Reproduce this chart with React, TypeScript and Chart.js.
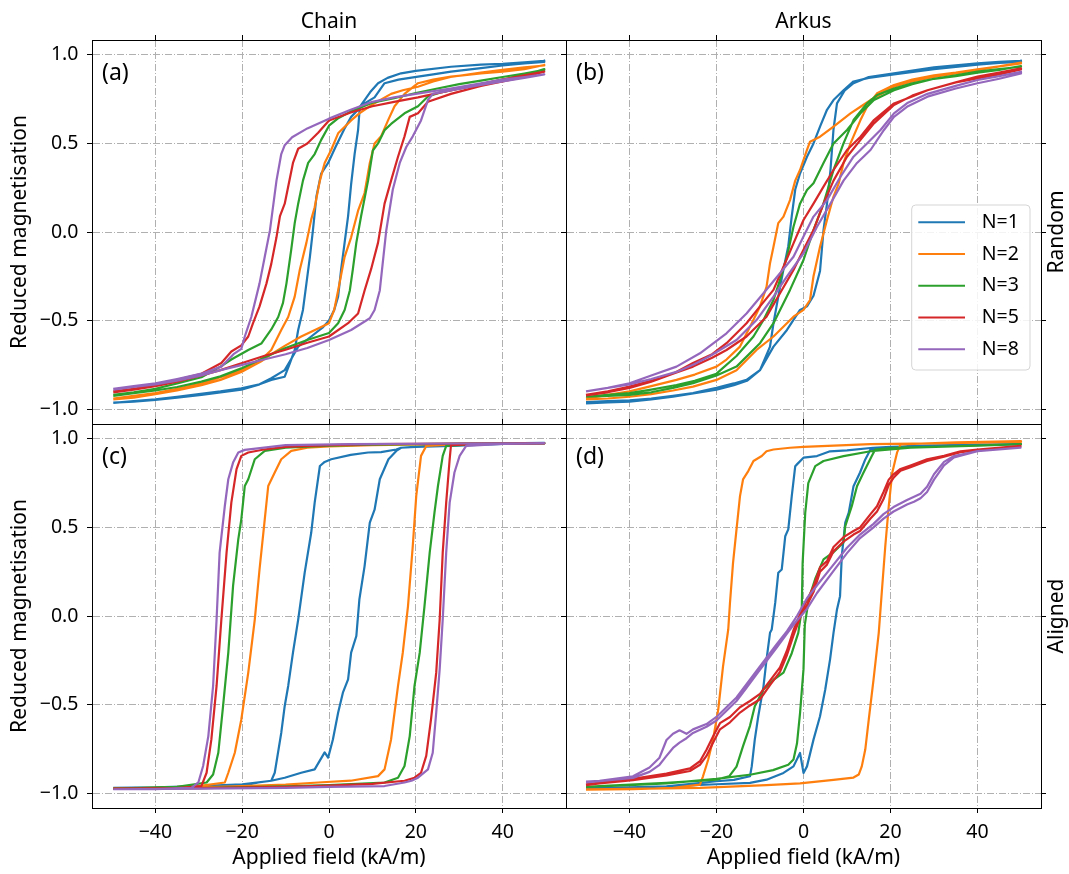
import React, { useEffect, useRef } from 'react';
import { Chart, registerables } from 'chart.js';

Chart.register(...registerables);

type Pt = [number, number];

const FONT = "'Noto Sans', sans-serif";

const fieldTicks = [-40, -20, 0, 20, 40];
const fieldTickLabels = ['−40', '−20', '0', '20', '40'];
const magTicks = [-1, -0.5, 0, 0.5, 1];
const magTickLabels = ['−1.0', '−0.5', '0.0', '0.5', '1.0'];
const seriesNames = ['N=1', 'N=2', 'N=3', 'N=5', 'N=8'];
const seriesColors = ['#1f77b4', '#ff7f0e', '#2ca02c', '#d62728', '#9467bd'];
const columnTitles = ['Chain', 'Arkus'];
const rowLabels = ['Random', 'Aligned'];
const panelLetters = ['(a)', '(b)', '(c)', '(d)'];
const xLabel = 'Applied field (kA/m)';
const yLabel = 'Reduced magnetisation';

// ---------- (a) Chain, random ----------
const aN1Up: Pt[] = [[-49.7,-0.965],[-45,-0.955],[-40,-0.945],[-35,-0.93],[-30,-0.915],[-25,-0.9],[-20.2,-0.882],[-16,-0.86],[-13.3,-0.826],[-10.2,-0.78],[-8.3,-0.7],[-7.1,-0.647],[-4.1,-0.59],[-1.5,-0.54],[0,-0.5],[1.2,-0.44],[2.1,-0.365],[2.8,-0.21],[3.6,-0.06],[4.4,0.09],[5.1,0.27],[5.9,0.44],[6.7,0.576],[7.1,0.707],[8.2,0.745],[9.5,0.79],[11.3,0.84],[13.5,0.87],[16.6,0.896],[20,0.91],[28.1,0.933],[35,0.945],[40,0.95],[45,0.958],[49.6,0.967]];
const aN1Down: Pt[] = [[49.6,0.96],[45,0.952],[40,0.94],[35,0.925],[28.1,0.905],[24,0.89],[20.5,0.877],[16,0.86],[12.8,0.84],[10.5,0.76],[8.2,0.726],[6.7,0.69],[5.1,0.65],[3.5,0.58],[1.5,0.48],[-0.2,0.39],[-1.8,0.33],[-2.9,0.2],[-3.7,0.01],[-4.4,-0.14],[-5.2,-0.29],[-6,-0.44],[-7.1,-0.553],[-7.9,-0.666],[-9,-0.74],[-10.2,-0.817],[-13.3,-0.835],[-16,-0.86],[-20.2,-0.89],[-25,-0.905],[-29.4,-0.92],[-35,-0.935],[-40,-0.948],[-45,-0.958],[-49.7,-0.963]];
const aN2Up: Pt[] = [[-49.7,-0.945],[-45,-0.935],[-40,-0.915],[-35,-0.895],[-29.4,-0.865],[-25,-0.835],[-20.2,-0.79],[-15.6,-0.73],[-13.3,-0.69],[-10,-0.64],[-6.4,-0.59],[-3,-0.55],[0,-0.515],[1.2,-0.44],[2.1,-0.33],[3.6,-0.14],[5.1,-0.03],[6.7,0.12],[8.2,0.22],[9.4,0.39],[10.5,0.5],[12,0.54],[13.6,0.63],[15.1,0.71],[17.4,0.78],[20.5,0.84],[24,0.86],[28.1,0.877],[35,0.895],[40,0.905],[45,0.92],[49.6,0.943]];
const aN2Down: Pt[] = [[49.6,0.94],[45,0.93],[40,0.915],[35,0.9],[28,0.875],[24,0.85],[20.5,0.82],[17,0.8],[14.3,0.78],[10,0.72],[7,0.67],[5.1,0.63],[2.1,0.557],[0.5,0.463],[-1,0.39],[-2.1,0.29],[-3.3,0.14],[-4.1,0.07],[-5.2,-0.06],[-6.7,-0.21],[-7.9,-0.365],[-9.4,-0.48],[-11,-0.553],[-13.3,-0.666],[-15.6,-0.72],[-20.2,-0.78],[-25,-0.82],[-29.4,-0.855],[-35,-0.885],[-40,-0.91],[-45,-0.925],[-49.7,-0.94]];
const aN3Up: Pt[] = [[-49.7,-0.925],[-45,-0.91],[-40,-0.895],[-35,-0.875],[-29.4,-0.845],[-25,-0.815],[-20.2,-0.77],[-15,-0.71],[-10,-0.655],[-5,-0.61],[0,-0.57],[2.1,-0.515],[3.6,-0.44],[4.8,-0.33],[5.5,-0.21],[6.3,-0.06],[7.4,0.09],[9,0.29],[10.1,0.46],[11.3,0.5],[12.8,0.575],[14.3,0.61],[17.4,0.67],[20.5,0.71],[22.8,0.765],[26,0.79],[30,0.81],[35,0.835],[40,0.86],[45,0.885],[49.6,0.92]];
const aN3Down: Pt[] = [[49.6,0.915],[45,0.895],[40,0.875],[35,0.855],[30,0.835],[25,0.81],[20,0.785],[15,0.755],[10,0.73],[5,0.68],[2,0.64],[0,0.6],[-1.8,0.52],[-3.3,0.44],[-4.8,0.39],[-6,0.29],[-7.1,0.16],[-7.9,0.05],[-8.7,-0.1],[-9.8,-0.29],[-10.6,-0.4],[-11.7,-0.48],[-13.3,-0.55],[-15.6,-0.63],[-18.6,-0.666],[-22.5,-0.72],[-25,-0.76],[-29.4,-0.82],[-35,-0.855],[-40,-0.885],[-45,-0.905],[-49.7,-0.92]];
const aN5Up: Pt[] = [[-49.7,-0.905],[-45,-0.89],[-40,-0.87],[-35,-0.845],[-29.4,-0.81],[-25,-0.78],[-20,-0.74],[-15,-0.7],[-10,-0.665],[-5,-0.625],[0,-0.59],[4.4,-0.515],[6.7,-0.46],[8.2,-0.33],[9.7,-0.21],[11.3,-0.06],[12.8,0.16],[14.3,0.29],[15.9,0.425],[17.4,0.54],[18.6,0.65],[20.5,0.67],[22.8,0.735],[28.1,0.78],[35,0.825],[40,0.85],[45,0.875],[49.6,0.905]];
const aN5Down: Pt[] = [[49.6,0.905],[45,0.885],[40,0.86],[35,0.835],[28,0.8],[20.5,0.76],[15,0.735],[10,0.71],[5,0.675],[0,0.63],[-2.5,0.56],[-5,0.5],[-7.1,0.47],[-8.3,0.39],[-10.2,0.16],[-11.3,0.09],[-12.1,-0.03],[-13.3,-0.18],[-14.4,-0.29],[-16,-0.42],[-17.5,-0.515],[-18.6,-0.59],[-20.2,-0.64],[-22.5,-0.675],[-24.8,-0.74],[-29.4,-0.8],[-35,-0.835],[-40,-0.865],[-45,-0.885],[-49.7,-0.9]];
const aN8Up: Pt[] = [[-49.7,-0.89],[-45,-0.875],[-40,-0.86],[-35,-0.84],[-29.4,-0.81],[-25,-0.78],[-20,-0.75],[-15,-0.72],[-10,-0.69],[-5,-0.655],[0,-0.61],[5.1,-0.553],[9.4,-0.487],[10.5,-0.44],[11.7,-0.33],[13.2,0.01],[14.7,0.24],[16.3,0.39],[17.8,0.48],[19.3,0.54],[21.2,0.63],[22.8,0.745],[23.9,0.78],[28,0.8],[35,0.83],[40,0.85],[45,0.87],[49.6,0.89]];
const aN8Down: Pt[] = [[49.6,0.89],[45,0.875],[40,0.86],[35,0.84],[28,0.81],[20,0.78],[15,0.76],[10,0.735],[5,0.69],[0,0.64],[-5,0.585],[-8.5,0.535],[-10.2,0.49],[-11,0.44],[-12.1,0.29],[-13.6,0.01],[-14.8,-0.14],[-16,-0.29],[-17.9,-0.48],[-19.4,-0.59],[-20.2,-0.66],[-22,-0.69],[-24.8,-0.76],[-29.4,-0.8],[-35,-0.83],[-40,-0.855],[-45,-0.87],[-49.7,-0.885]];

// ---------- (b) Arkus, random ----------
const bN1Up: Pt[] = [[-50,-0.96],[-45,-0.955],[-40,-0.95],[-35,-0.94],[-30,-0.925],[-25.4,-0.91],[-20,-0.88],[-16,-0.855],[-13.1,-0.835],[-10,-0.78],[-6.9,-0.647],[-3.8,-0.553],[-0.8,-0.44],[0.8,-0.42],[2.3,-0.36],[3.8,-0.22],[4.6,0.01],[5.4,0.16],[6.2,0.35],[6.9,0.58],[7.7,0.726],[9.5,0.8],[11.5,0.84],[15,0.875],[20.8,0.896],[30,0.93],[40,0.952],[45,0.96],[50,0.967]];
const bN1Down: Pt[] = [[50,0.96],[45,0.955],[40,0.945],[30,0.92],[20.8,0.89],[15,0.87],[11.5,0.85],[9.2,0.8],[6.9,0.745],[5.4,0.69],[3.8,0.595],[2.3,0.5],[0.8,0.425],[-0.8,0.33],[-1.9,0.24],[-2.7,0.09],[-3.5,-0.08],[-4.6,-0.21],[-5.8,-0.365],[-6.9,-0.515],[-7.7,-0.647],[-10,-0.78],[-13,-0.84],[-16,-0.865],[-20,-0.89],[-25,-0.91],[-30,-0.93],[-35,-0.945],[-40,-0.958],[-45,-0.962],[-50,-0.967]];
const bN2Up: Pt[] = [[-50,-0.945],[-45,-0.94],[-40,-0.93],[-35,-0.915],[-30,-0.895],[-25.4,-0.873],[-20,-0.835],[-15.4,-0.78],[-10.8,-0.666],[-6.9,-0.59],[-2.3,-0.478],[0,-0.44],[1.5,-0.384],[2.3,-0.25],[3.8,-0.083],[5.4,0.068],[6.9,0.2],[8.1,0.275],[9.2,0.39],[10.8,0.5],[13.1,0.632],[14.6,0.707],[16.9,0.783],[20.8,0.83],[25,0.86],[30,0.885],[35,0.9],[40,0.918],[45,0.935],[50,0.956]];
const bN2Down: Pt[] = [[50,0.952],[45,0.935],[40,0.914],[35,0.895],[30,0.875],[25,0.85],[20.8,0.82],[15.4,0.745],[13.1,0.707],[10.8,0.67],[6.9,0.595],[3.8,0.538],[1.5,0.51],[0.8,0.463],[-0.8,0.35],[-1.9,0.29],[-3.1,0.18],[-4.6,0.087],[-5.8,0.05],[-6.9,-0.083],[-7.7,-0.177],[-8.5,-0.31],[-10,-0.42],[-11.9,-0.515],[-14.6,-0.647],[-17.7,-0.72],[-20,-0.76],[-25,-0.805],[-29.2,-0.835],[-35,-0.87],[-40,-0.9],[-45,-0.92],[-50,-0.94]];
const bN3Up: Pt[] = [[-50,-0.93],[-45,-0.925],[-40,-0.92],[-35,-0.905],[-30,-0.88],[-25.4,-0.854],[-20,-0.81],[-15.4,-0.76],[-10,-0.628],[-6.9,-0.515],[-3.1,-0.327],[0,-0.158],[2.3,0.011],[4.6,0.16],[6.9,0.35],[9.2,0.5],[11.5,0.632],[14.6,0.726],[16.9,0.773],[20.8,0.81],[25,0.84],[30,0.865],[35,0.88],[40,0.9],[45,0.915],[50,0.937]];
const bN3Down: Pt[] = [[50,0.933],[45,0.92],[40,0.905],[35,0.885],[30,0.865],[25,0.835],[20.8,0.8],[16.2,0.745],[13.1,0.67],[10,0.576],[6.9,0.5],[4.6,0.39],[2.3,0.275],[0.8,0.237],[-0.8,0.16],[-2.3,0.03],[-3.8,-0.14],[-5.4,-0.27],[-6.9,-0.384],[-9.2,-0.497],[-11.5,-0.59],[-15.4,-0.7],[-20,-0.8],[-25,-0.84],[-29.2,-0.864],[-35,-0.89],[-40,-0.91],[-45,-0.92],[-50,-0.93]];
const bN5Up: Pt[] = [[-50,-0.922],[-45,-0.905],[-40,-0.88],[-35,-0.845],[-30,-0.8],[-25.4,-0.76],[-21,-0.71],[-17.7,-0.666],[-13.1,-0.59],[-8.5,-0.478],[-5.4,-0.346],[-2.3,-0.214],[0,-0.1],[2.3,0.011],[4.6,0.16],[6.9,0.29],[10,0.425],[13.1,0.52],[16.2,0.613],[20.8,0.717],[25,0.77],[28.5,0.8],[35,0.845],[40,0.867],[45,0.89],[50,0.918]];
const bN5Down: Pt[] = [[50,0.924],[45,0.9],[40,0.877],[35,0.845],[28.5,0.8],[25,0.765],[20.8,0.726],[16.2,0.632],[13.1,0.538],[10,0.463],[6.9,0.35],[4.6,0.256],[2.3,0.16],[0,0.068],[-2.3,-0.064],[-4.6,-0.196],[-6.9,-0.327],[-10,-0.42],[-13.1,-0.515],[-17.7,-0.628],[-21,-0.69],[-25.4,-0.74],[-30,-0.8],[-33,-0.826],[-40,-0.873],[-45,-0.9],[-50,-0.92]];
const bN8Up: Pt[] = [[-50,-0.9],[-45,-0.88],[-40,-0.86],[-35,-0.83],[-29.2,-0.79],[-25,-0.745],[-21.5,-0.7],[-15.4,-0.61],[-10.8,-0.497],[-6.9,-0.365],[-3.8,-0.25],[0,-0.12],[3.1,0.03],[6.2,0.16],[9.2,0.29],[12.3,0.39],[15.4,0.463],[18.5,0.576],[20.8,0.65],[24,0.71],[28.5,0.764],[35,0.81],[40,0.84],[45,0.865],[50,0.895]];
const bN8Down: Pt[] = [[50,0.905],[45,0.88],[40,0.858],[35,0.825],[28.5,0.78],[24,0.73],[20.8,0.67],[17.7,0.576],[14.6,0.5],[11.5,0.425],[8.5,0.312],[5.4,0.18],[2.3,0.087],[0,-0.026],[-2.3,-0.14],[-5.4,-0.233],[-9.2,-0.346],[-13.1,-0.46],[-17.7,-0.572],[-23.8,-0.685],[-29.2,-0.76],[-35,-0.81],[-40,-0.854],[-45,-0.88],[-50,-0.9]];

// ---------- (c) Chain, aligned ----------
const cN1Up: Pt[] = [[-49.7,-0.97],[-40,-0.968],[-30,-0.96],[-20,-0.95],[-13.3,-0.93],[-10.2,-0.913],[-6.4,-0.885],[-3.3,-0.866],[-1,-0.77],[-0.2,-0.8],[0.9,-0.697],[2.1,-0.546],[3.2,-0.433],[4.4,-0.358],[5.1,-0.207],[6.3,-0.113],[7,0.094],[8.2,0.282],[9.4,0.527],[10.5,0.6],[11.7,0.772],[13.7,0.885],[15.5,0.932],[16.6,0.95],[28.1,0.97],[40,0.975],[49.6,0.978]];
const cN1Down: Pt[] = [[49.6,0.975],[40,0.972],[28.1,0.96],[20,0.955],[16.6,0.95],[15.5,0.94],[12,0.925],[9,0.923],[5,0.91],[0.5,0.885],[-1,0.87],[-2.1,0.847],[-3.3,0.64],[-4.1,0.47],[-5.6,0.245],[-7.1,-0.02],[-8.3,-0.207],[-9.4,-0.395],[-10.2,-0.508],[-11,-0.66],[-12.5,-0.885],[-13.3,-0.93],[-16.3,-0.94],[-20,-0.96],[-30,-0.965],[-40,-0.97],[-49.7,-0.97]];
const cN2Up: Pt[] = [[-49.7,-0.975],[-40,-0.972],[-30,-0.968],[-20,-0.96],[-10,-0.952],[-2.5,-0.94],[5,-0.93],[11.3,-0.904],[12.8,-0.866],[14.3,-0.697],[15.9,-0.395],[17,-0.207],[18.2,0.056],[19.3,0.395],[20.1,0.678],[21.2,0.904],[22.4,0.96],[30,0.97],[40,0.974],[49.6,0.975]];
const cN2Down: Pt[] = [[49.6,0.975],[30,0.972],[10,0.965],[0,0.957],[-5,0.95],[-8.7,0.932],[-11,0.885],[-12.5,0.81],[-14,0.734],[-14.8,0.546],[-16,0.264],[-17.1,-0.02],[-18.6,-0.32],[-20.2,-0.584],[-21.7,-0.772],[-23.2,-0.885],[-24,-0.94],[-30.1,-0.96],[-40,-0.97],[-49.7,-0.975]];
const cN3Up: Pt[] = [[-49.7,-0.975],[-30,-0.972],[-10,-0.962],[0,-0.955],[12.8,-0.94],[15.9,-0.913],[17.4,-0.847],[18.6,-0.678],[19.7,-0.395],[20.9,-0.207],[22,0.056],[23.2,0.358],[24.3,0.584],[25.1,0.734],[26.2,0.904],[27,0.96],[35,0.972],[49.6,0.975]];
const cN3Down: Pt[] = [[49.6,0.975],[30,0.973],[10,0.968],[0,0.962],[-10,0.95],[-14.8,0.932],[-17.1,0.885],[-18.6,0.772],[-19.4,0.734],[-20.2,0.546],[-20.9,0.433],[-22.1,0.17],[-23.2,-0.207],[-24.4,-0.508],[-25.5,-0.772],[-26.7,-0.895],[-28.2,-0.94],[-35,-0.965],[-49.7,-0.975]];
const cN5Up: Pt[] = [[-49.7,-0.975],[-30,-0.972],[-10,-0.965],[0,-0.958],[10,-0.948],[17.4,-0.93],[19.7,-0.913],[21.2,-0.885],[22.4,-0.79],[23.5,-0.584],[24.7,-0.32],[25.5,-0.02],[26.2,0.358],[27,0.64],[27.8,0.885],[28.1,0.964],[35,0.972],[49.6,0.975]];
const cN5Down: Pt[] = [[49.6,0.975],[30,0.974],[10,0.97],[0,0.965],[-10,0.955],[-15,0.94],[-18.6,0.923],[-20.2,0.904],[-21.3,0.829],[-22.5,0.64],[-23.6,0.358],[-24.8,-0.02],[-25.9,-0.395],[-27.1,-0.697],[-28.2,-0.885],[-29.4,-0.96],[-35,-0.972],[-49.7,-0.975]];
const cN8Up: Pt[] = [[-49.7,-0.978],[-30,-0.975],[-10,-0.97],[0,-0.965],[12.8,-0.96],[17.4,-0.94],[19,-0.93],[20.5,-0.913],[22.8,-0.866],[23.9,-0.772],[24.7,-0.546],[25.5,-0.3],[26.2,-0.02],[27,0.358],[27.8,0.64],[28.9,0.81],[30.1,0.904],[31.6,0.96],[40,0.972],[49.6,0.975]];
const cN8Down: Pt[] = [[49.6,0.975],[30,0.974],[5,0.97],[-10,0.965],[-19.4,0.938],[-20.9,0.923],[-22.1,0.866],[-23.2,0.772],[-24,0.621],[-25.2,0.358],[-25.9,-0.02],[-26.7,-0.395],[-27.8,-0.678],[-29,-0.847],[-30.1,-0.94],[-31.7,-0.97],[-40,-0.977],[-49.7,-0.978]];

// ---------- (d) Arkus, aligned ----------
const dN1Up: Pt[] = [[-50,-0.975],[-40,-0.97],[-31.5,-0.962],[-20,-0.95],[-12.3,-0.942],[-8.5,-0.924],[-4.6,-0.886],[-2.3,-0.849],[-0.8,-0.773],[0,-0.886],[0.8,-0.849],[2.3,-0.698],[3.8,-0.566],[5,-0.415],[6.1,-0.246],[6.9,-0.095],[7.7,0.037],[8.4,0.112],[8.8,0.338],[9.6,0.527],[10.4,0.583],[11.5,0.733],[13,0.81],[14.2,0.884],[15.4,0.94],[24.6,0.96],[40,0.968],[50,0.97]];
const dN1Down: Pt[] = [[50,0.97],[40,0.965],[30,0.96],[20,0.955],[16,0.95],[10,0.935],[6.1,0.93],[3.1,0.903],[0,0.894],[-1.5,0.856],[-1.9,0.846],[-2.7,0.677],[-3.5,0.489],[-4.2,0.45],[-5,0.263],[-5.8,0.244],[-6.5,0.075],[-7.3,-0.076],[-7.7,-0.095],[-8.5,-0.246],[-9.2,-0.397],[-10.4,-0.566],[-11.2,-0.698],[-11.9,-0.849],[-12.3,-0.905],[-16,-0.925],[-20,-0.933],[-31.5,-0.962],[-40,-0.968],[-50,-0.972]];
const dN2Up: Pt[] = [[-50,-0.978],[-40,-0.976],[-23.8,-0.97],[-8.5,-0.955],[-0.8,-0.945],[6.9,-0.925],[11.5,-0.912],[12.7,-0.895],[13.4,-0.849],[14.2,-0.754],[15,-0.585],[16.1,-0.359],[17.3,-0.095],[18.1,0.168],[18.8,0.394],[19.6,0.62],[20.4,0.809],[21.5,0.922],[22.3,0.969],[35,0.98],[49.9,0.988]];
const dN2Down: Pt[] = [[50,0.983],[30,0.975],[15.4,0.97],[0,0.955],[-3.1,0.95],[-6.9,0.94],[-8.5,0.93],[-9.6,0.903],[-11.5,0.875],[-12.7,0.818],[-13.9,0.771],[-14.6,0.677],[-15.4,0.489],[-16.2,0.3],[-16.9,0.075],[-17.3,-0.076],[-18.5,-0.284],[-19.6,-0.528],[-20.8,-0.698],[-21.9,-0.81],[-23.1,-0.905],[-23.8,-0.952],[-30,-0.97],[-39.2,-0.978],[-50,-0.98]];
const dN3Up: Pt[] = [[-50,-0.965],[-46.9,-0.96],[-31.5,-0.942],[-20,-0.924],[-17.1,-0.905],[-15.4,-0.85],[-13.9,-0.735],[-12.3,-0.62],[-11.2,-0.51],[-9.2,-0.415],[-6.9,-0.36],[-4.6,-0.32],[-2.7,-0.21],[-1.2,-0.095],[-0.4,0.037],[-0.2,0.3],[0.4,0.583],[1.1,0.75],[2.7,0.846],[4.6,0.875],[9.2,0.903],[15.4,0.93],[24.6,0.95],[40,0.962],[50,0.97]];
const dN3Down: Pt[] = [[50,0.97],[40,0.962],[30,0.955],[20.7,0.95],[16.5,0.94],[15.7,0.903],[13.8,0.81],[12.3,0.733],[11.1,0.62],[10.1,0.545],[9.6,0.507],[9.2,0.415],[6.9,0.36],[4.6,0.32],[2.7,0.21],[1.2,0.095],[0.3,-0.05],[0,-0.3],[-0.8,-0.55],[-1.5,-0.72],[-2.3,-0.81],[-3.5,-0.84],[-7,-0.87],[-12,-0.895],[-20,-0.92],[-31.5,-0.945],[-40,-0.955],[-50,-0.965]];
const dN5Up: Pt[] = [[-50,-0.955],[-46.9,-0.945],[-39.2,-0.927],[-31.5,-0.9],[-26.1,-0.875],[-23.8,-0.84],[-22.3,-0.79],[-20.8,-0.715],[-19.2,-0.64],[-16.9,-0.6],[-14.6,-0.545],[-12.3,-0.505],[-10,-0.47],[-7.7,-0.39],[-5.4,-0.315],[-3.8,-0.22],[-2.3,-0.11],[-0.8,-0.01],[0.8,0.06],[2.3,0.135],[3.8,0.25],[5.4,0.29],[6.9,0.365],[9.2,0.42],[11.5,0.46],[13,0.48],[15.4,0.55],[16.9,0.59],[18.4,0.66],[19.6,0.74],[20.7,0.78],[22.3,0.82],[24.6,0.84],[28.4,0.875],[32.3,0.9],[36.1,0.925],[40,0.935],[49.9,0.958]];
const dN5Down: Pt[] = [[49.9,0.96],[40,0.94],[36.1,0.93],[32.3,0.905],[28.4,0.885],[24.6,0.85],[22.3,0.83],[20.7,0.8],[19.6,0.77],[18.4,0.7],[16.9,0.62],[15.4,0.575],[13,0.5],[11.5,0.48],[9.2,0.445],[6.9,0.39],[5.4,0.31],[3.8,0.275],[2.3,0.165],[0.8,0.09],[-0.8,0.01],[-2.3,-0.08],[-3.8,-0.195],[-5.4,-0.29],[-7.7,-0.365],[-10,-0.44],[-12.3,-0.48],[-14.6,-0.515],[-16.9,-0.57],[-19.2,-0.605],[-20.8,-0.68],[-22.3,-0.755],[-23.8,-0.82],[-26.1,-0.86],[-31.5,-0.89],[-39.2,-0.92],[-46.9,-0.94],[-50,-0.95]];
const dN8Up: Pt[] = [[-50,-0.94],[-46.9,-0.933],[-39.2,-0.914],[-35.4,-0.88],[-33.1,-0.84],[-31.5,-0.79],[-30,-0.745],[-28.5,-0.715],[-26.9,-0.69],[-25.4,-0.66],[-22.3,-0.625],[-20,-0.59],[-17.7,-0.535],[-15.4,-0.48],[-13.1,-0.405],[-10.8,-0.33],[-8.5,-0.255],[-6.2,-0.18],[-3.8,-0.1],[-1.5,-0.025],[0.8,0.04],[3.1,0.13],[6.9,0.255],[10,0.355],[13,0.44],[16.1,0.5],[18.4,0.55],[20.7,0.59],[23.8,0.63],[25.4,0.645],[26.9,0.665],[28.4,0.7],[30,0.77],[32.3,0.85],[34.6,0.895],[40,0.93],[49.9,0.95]];
const dN8Down: Pt[] = [[49.9,0.951],[40,0.931],[34.6,0.903],[32.3,0.87],[30,0.8],[28.4,0.73],[26.9,0.69],[23.8,0.655],[20.7,0.615],[18.4,0.575],[16.1,0.52],[13,0.46],[10,0.385],[6.9,0.29],[3.8,0.195],[0.8,0.1],[-1.5,0],[-3.8,-0.085],[-6.2,-0.16],[-8.5,-0.235],[-10.8,-0.31],[-13.1,-0.385],[-15.4,-0.46],[-17.7,-0.515],[-20,-0.57],[-22.3,-0.61],[-25.4,-0.64],[-26.9,-0.665],[-28.5,-0.645],[-30,-0.665],[-31.5,-0.7],[-33.1,-0.8],[-35.4,-0.855],[-39.2,-0.905],[-46.9,-0.93],[-50,-0.935]];

const FIELD_MIN = -54.6;
const FIELD_MAX = 54.6;
const MAG_MIN = -1.084;
const MAG_MAX = 1.084;

interface PanelSpec {
  letter: string;
  plotLeft: number; plotTop: number; plotRight: number; plotBottom: number;
  padL: number; padR: number; padT: number; padB: number;
  yLabels: boolean; xLabels: boolean;
  title?: string; rowLabel?: string; legend?: boolean;
  loops: [Pt[], Pt[]][];
}

const PANELS: PanelSpec[] = [
  { letter: panelLetters[0], plotLeft: 92, plotTop: 40, plotRight: 566, plotBottom: 424, padL: 92, padR: 20, padT: 40, padB: 10, yLabels: true, xLabels: false, title: columnTitles[0],
    loops: [[aN1Up, aN1Down], [aN2Up, aN2Down], [aN3Up, aN3Down], [aN5Up, aN5Down], [aN8Up, aN8Down]] },
  { letter: panelLetters[1], plotLeft: 566, plotTop: 40, plotRight: 1041, plotBottom: 424, padL: 20, padR: 28, padT: 40, padB: 10, yLabels: false, xLabels: false, title: columnTitles[1], rowLabel: rowLabels[0], legend: true,
    loops: [[bN1Up, bN1Down], [bN2Up, bN2Down], [bN3Up, bN3Down], [bN5Up, bN5Down], [bN8Up, bN8Down]] },
  { letter: panelLetters[2], plotLeft: 92, plotTop: 424, plotRight: 566, plotBottom: 808, padL: 92, padR: 20, padT: 10, padB: 66, yLabels: true, xLabels: true,
    loops: [[cN1Up, cN1Down], [cN2Up, cN2Down], [cN3Up, cN3Down], [cN5Up, cN5Down], [cN8Up, cN8Down]] },
  { letter: panelLetters[3], plotLeft: 566, plotTop: 424, plotRight: 1041, plotBottom: 808, padL: 20, padR: 28, padT: 10, padB: 66, yLabels: false, xLabels: true, rowLabel: rowLabels[1],
    loops: [[dN1Up, dN1Down], [dN2Up, dN2Down], [dN3Up, dN3Down], [dN5Up, dN5Down], [dN8Up, dN8Down]] },
];

const TICK_FONT = { family: FONT, size: 19.5 };
const LABEL_FONT = { family: FONT, size: 21 };

function gridOpts(onChart: boolean) {
  return {
    display: true,
    drawOnChartArea: onChart,
    drawTicks: true,
    tickLength: 5,
    color: '#b0b0b0',
    lineWidth: 1,
    tickColor: '#000000',
    tickWidth: 1,
    tickBorderDash: [],
  };
}
const borderOpts = { display: true, color: '#000000', width: 1, dash: [7, 2, 1, 2] };

function zeroPad(s: any) {
  s.paddingTop = 0; s.paddingBottom = 0; s.paddingLeft = 0; s.paddingRight = 0;
}

function decorPlugin(spec: PanelSpec) {
  return {
    id: 'decor',
    afterDraw(chart: any) {
      const ctx: CanvasRenderingContext2D = chart.ctx;
      const ca = chart.chartArea;
      ctx.save();
      ctx.fillStyle = '#000';
      ctx.font = `23px ${FONT}`;
      ctx.textAlign = 'left';
      ctx.textBaseline = 'middle';
      ctx.fillText(spec.letter, ca.left + 10, ca.top + 33);
      if (spec.rowLabel) {
        ctx.save();
        ctx.translate(ca.right + 16, (ca.top + ca.bottom) / 2);
        ctx.rotate(-Math.PI / 2);
        ctx.font = `${LABEL_FONT.size}px ${FONT}`;
        ctx.textAlign = 'center';
        ctx.textBaseline = 'middle';
        ctx.fillText(spec.rowLabel, 0, 0);
        ctx.restore();
      }
      if (spec.legend) {
        const w = 118.3, h = 165;
        const x0 = ca.right - 11 - w;
        const y0 = ca.top + 165;
        const r = 4;
        ctx.beginPath();
        ctx.moveTo(x0 + r, y0);
        ctx.lineTo(x0 + w - r, y0);
        ctx.arcTo(x0 + w, y0, x0 + w, y0 + r, r);
        ctx.lineTo(x0 + w, y0 + h - r);
        ctx.arcTo(x0 + w, y0 + h, x0 + w - r, y0 + h, r);
        ctx.lineTo(x0 + r, y0 + h);
        ctx.arcTo(x0, y0 + h, x0, y0 + h - r, r);
        ctx.lineTo(x0, y0 + r);
        ctx.arcTo(x0, y0, x0 + r, y0, r);
        ctx.closePath();
        ctx.fillStyle = 'rgba(255,255,255,0.85)';
        ctx.fill();
        ctx.strokeStyle = '#d5d5d5';
        ctx.lineWidth = 1;
        ctx.stroke();
        const ds = chart.data.datasets;
        ds.forEach((d: any, i: number) => {
          const yy = y0 + 17.3 + i * 31.75;
          ctx.strokeStyle = d.borderColor;
          ctx.lineWidth = 2;
          ctx.beginPath();
          ctx.moveTo(x0 + 6.6, yy);
          ctx.lineTo(x0 + 53.3, yy);
          ctx.stroke();
          ctx.fillStyle = '#000';
          ctx.font = `${TICK_FONT.size}px ${FONT}`;
          ctx.textAlign = 'left';
          ctx.textBaseline = 'middle';
          ctx.fillText(d.label, x0 + 70, yy);
        });
      }
      ctx.restore();
    },
  };
}

function makeConfig(spec: PanelSpec): any {
  const datasets = spec.loops.map((loop, i) => ({
    label: seriesNames[i],
    data: [...loop[0], ...loop[1]].map(([x, y]) => ({ x, y })),
    borderColor: seriesColors[i],
    backgroundColor: seriesColors[i],
    borderWidth: 2.2,
    pointRadius: 0,
    pointHoverRadius: 0,
    showLine: true,
    fill: false,
    tension: 0,
    borderJoinStyle: 'round',
    order: seriesNames.length - i,
    xAxisID: 'x',
    yAxisID: 'y',
  }));
  const setFieldTicks = (s: any) => { s.ticks = fieldTicks.map((v) => ({ value: v })); };
  const setMagTicks = (s: any) => { s.ticks = magTicks.map((v) => ({ value: v })); };
  return {
    type: 'scatter',
    data: { datasets },
    plugins: [decorPlugin(spec)],
    options: {
      animation: false,
      responsive: false,
      maintainAspectRatio: false,
      devicePixelRatio: 1,
      events: [],
      layout: { padding: 0 },
      plugins: { legend: { display: false }, tooltip: { enabled: false }, title: { display: false } },
      scales: {
        x: {
          type: 'linear', position: 'bottom', min: FIELD_MIN, max: FIELD_MAX,
          afterBuildTicks: setFieldTicks,
          afterFit: (s: any) => { s.height = spec.padB; zeroPad(s); },
          ticks: {
            display: spec.xLabels, color: '#000', font: TICK_FONT, padding: 7.5, maxRotation: 0, autoSkip: false,
            callback: (v: any) => { const k = fieldTicks.indexOf(Number(v)); return k >= 0 ? fieldTickLabels[k] : ''; },
          },
          grid: gridOpts(true),
          border: borderOpts,
          title: spec.xLabels
            ? { display: true, text: xLabel, color: '#000', font: LABEL_FONT, padding: { top: 0, bottom: 3.3 } }
            : { display: false },
        },
        x2: {
          type: 'linear', position: 'top', min: FIELD_MIN, max: FIELD_MAX,
          afterBuildTicks: setFieldTicks,
          afterFit: (s: any) => { s.height = spec.padT; zeroPad(s); },
          ticks: { display: false },
          grid: gridOpts(false),
          border: borderOpts,
          title: spec.title
            ? { display: true, text: spec.title, color: '#000', font: LABEL_FONT, padding: { top: 9, bottom: 0 } }
            : { display: false },
        },
        y: {
          type: 'linear', position: 'left', min: MAG_MIN, max: MAG_MAX,
          afterBuildTicks: setMagTicks,
          afterFit: (s: any) => { s.width = spec.padL; zeroPad(s); },
          ticks: {
            display: spec.yLabels, color: '#000', font: TICK_FONT, padding: 8.5, autoSkip: false,
            callback: (v: any) => { const k = magTicks.indexOf(Number(v)); return k >= 0 ? magTickLabels[k] : ''; },
          },
          grid: gridOpts(true),
          border: borderOpts,
          title: spec.yLabels
            ? { display: true, text: yLabel, color: '#000', font: LABEL_FONT, padding: { top: 7, bottom: 0 } }
            : { display: false },
        },
        y2: {
          type: 'linear', position: 'right', min: MAG_MIN, max: MAG_MAX,
          afterBuildTicks: setMagTicks,
          afterFit: (s: any) => { s.width = spec.padR; zeroPad(s); },
          ticks: { display: false },
          grid: gridOpts(false),
          border: borderOpts,
        },
      },
    },
  };
}

export default function App() {
  const wrap = useRef<HTMLDivElement>(null);
  useEffect(() => {
    const el = wrap.current;
    if (!el) return;
    const canvases = Array.from(el.querySelectorAll('canvas')) as HTMLCanvasElement[];
    const charts = canvases.map((cv, i) => new Chart(cv, makeConfig(PANELS[i])));
    return () => charts.forEach((c) => c.destroy());
  }, []);
  return (
    <div ref={wrap} style={{ position: 'absolute', left: 0, top: 0, width: 1069, height: 874, background: '#ffffff', overflow: 'hidden' }}>
      {PANELS.map((p) => {
        const w = p.plotRight - p.plotLeft + p.padL + p.padR;
        const h = p.plotBottom - p.plotTop + p.padT + p.padB;
        return (
          <canvas
            key={p.letter}
            width={w}
            height={h}
            style={{ position: 'absolute', left: p.plotLeft - p.padL, top: p.plotTop - p.padT, width: w, height: h }}
          />
        );
      })}
    </div>
  );
}
